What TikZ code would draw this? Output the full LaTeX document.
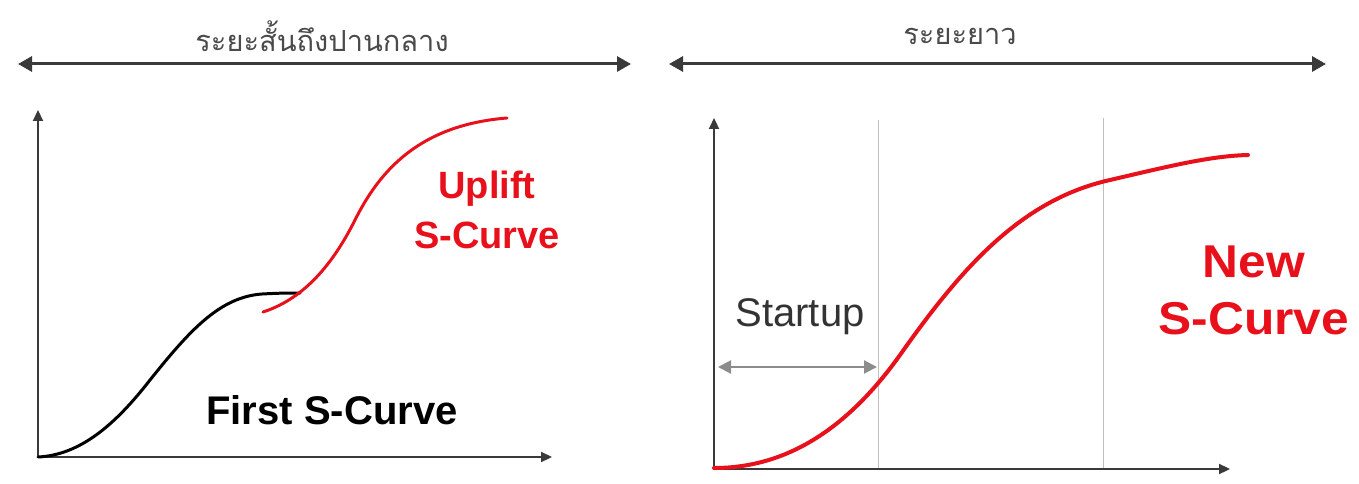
\documentclass[tikz,border=0pt]{standalone}
\usepackage{fontspec}
\setmainfont{Liberation Sans}
\newfontfamily\thaifont[Script=Thai]{Loma}
\usetikzlibrary{arrows.meta}
\definecolor{sred}{HTML}{E8101A}
\definecolor{axisgray}{HTML}{3A3A3A}
\definecolor{toptext}{HTML}{4A4A4A}
\tikzset{
  rangearrow/.style={line width=3pt, draw=axisgray, {Triangle[length=14pt,width=15pt]}-{Triangle[length=14pt,width=15pt]}},
  axisline/.style={line width=2.2pt, draw=axisgray, -{Triangle[length=11pt,width=10pt]}},
  guide/.style={line width=1pt, draw=black!25},
  startarrow/.style={line width=2.2pt, draw=black!45, {Triangle[length=13pt,width=13pt]}-{Triangle[length=13pt,width=13pt]}},
  toplabel/.style={font=\thaifont\fontsize{29}{32}\selectfont, text=toptext, inner sep=0pt},
  redlabel/.style={font=\bfseries\fontsize{38}{50}\selectfont, text=sred, align=center, inner sep=0pt},
  bigred/.style={font=\bfseries\fontsize{46}{57}\selectfont, text=sred, align=center, inner sep=0pt},
  blacklabel/.style={font=\bfseries\fontsize{40}{48}\selectfont, text=black, inner sep=0pt},
  graylabel/.style={font=\fontsize{40}{48}\selectfont, text=black!80, inner sep=0pt},
}
\begin{document}
\begin{tikzpicture}[x=1pt,y=-1pt]
\useasboundingbox (0,0) rectangle (1359,484);
% top range arrows
\coordinate (la) at (18,64);
\coordinate (lb) at (631,64);
\coordinate (ra) at (669,64);
\coordinate (rb) at (1326,64);
\draw[rangearrow] (la) -- (lb);
\draw[rangearrow] (ra) -- (rb);
\node[toplabel] (tshort) at (322,36) {ระยะสั้นถึงปานกลาง};
\node[toplabel] (tlong) at (960,36) {ระยะยาว};
% left axes
\coordinate (lo) at (38,457);
\coordinate (ly) at (38,110);
\coordinate (lx) at (552,457);
\draw[axisline] (lo) -- (ly);
\draw[axisline] (lo) -- (lx);
% black first curve
\draw[line width=3pt, black, line cap=round, line join=round]
  (38,457) .. controls (80,455) and (115,425) .. (150,380)
           .. controls (190,330) and (220,297) .. (262,294)
           .. controls (280,293) and (290,293) .. (300,293);
% red uplift curve
\draw[line width=3pt, sred, line cap=round]
  (263,312) .. controls (300,300) and (330,270) .. (355,220)
            .. controls (380,170) and (420,125) .. (507,118);
\node[redlabel] (uplift) at (487,210) {Uplift\\S-Curve};
\node[blacklabel] (first) at (332,410) {First S-Curve};
% right axes
\coordinate (ro) at (714,469);
\coordinate (ry) at (714,118);
\coordinate (rx) at (1230,469);
\draw[guide] (878,120) -- (878,469);
\draw[guide] (1103,118) -- (1103,469);
\draw[axisline] (ro) -- (ry);
\draw[axisline] (ro) -- (rx);
% startup
\coordinate (sa) at (718,367);
\coordinate (sb) at (877,367);
\draw[startarrow] (sa) -- (sb);
\node[graylabel] (startup) at (800,317) {Startup};
% new S curve
\draw[line width=4pt, sred, line cap=round]
  (714,468) .. controls (790,468) and (850,425) .. (900,355)
            .. controls (960,270) and (1020,200) .. (1110,180)
            .. controls (1170,166) and (1210,156) .. (1248,155);
\node[bigred] (newcurve) at (1254,290) {\scalebox{1.08}[1]{New}\\\scalebox{1.08}[1]{S-Curve}};
\end{tikzpicture}
\end{document}
